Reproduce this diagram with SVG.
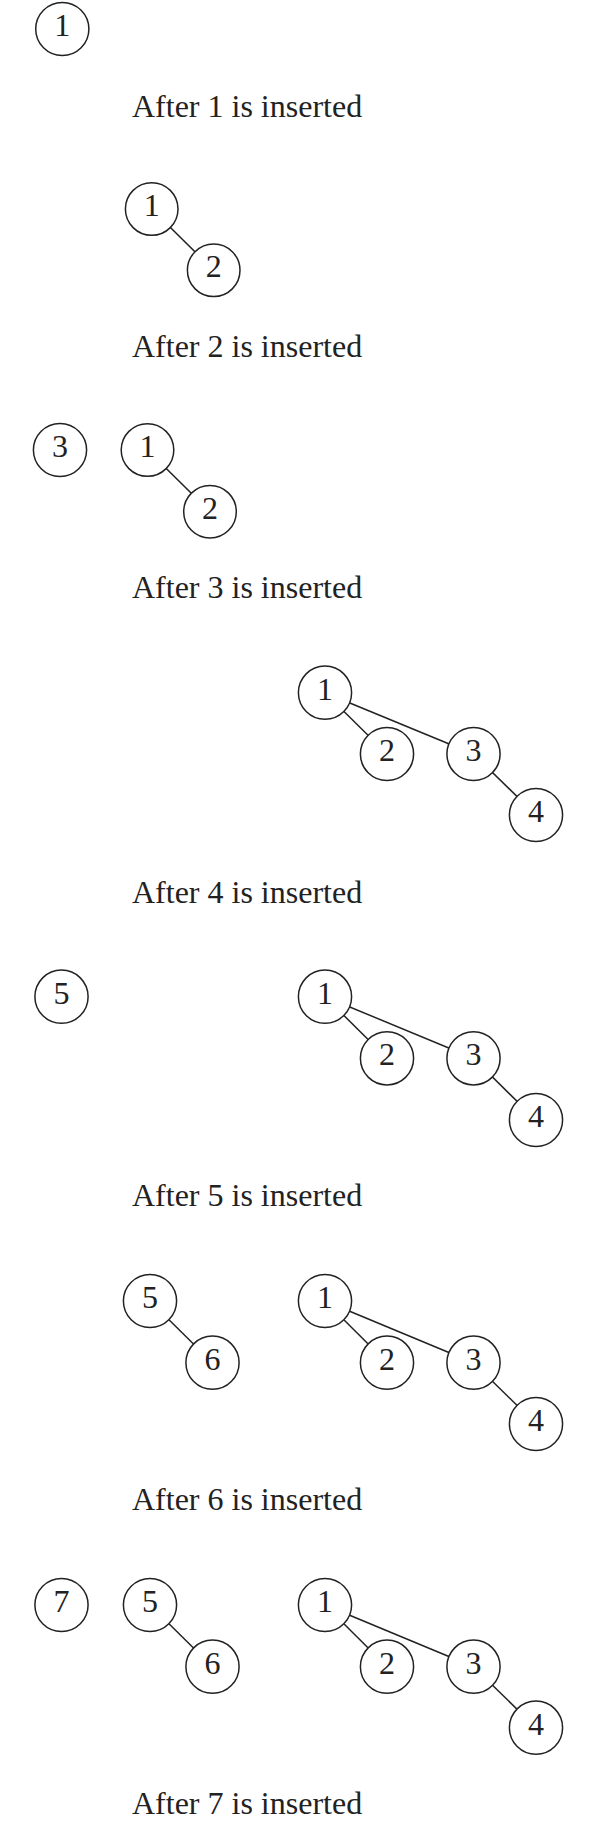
<svg xmlns="http://www.w3.org/2000/svg" width="599" height="1838" viewBox="0 0 599 1838">
<style>
.n circle{fill:#fff;stroke:#222;stroke-width:1.5}
.n text,.lbl{font-family:"Liberation Serif","Times New Roman",serif;font-size:32px;fill:#222}
.n text{text-anchor:middle}
.e line{stroke:#222;stroke-width:1.5}
</style>
<rect width="599" height="1838" fill="#fff"/>
<g id="connectors" class="e">
<line x1="151.7" y1="209" x2="213.7" y2="270.3"/>
<line x1="147.5" y1="450" x2="210" y2="511.7"/>
<line x1="325" y1="692.7" x2="387" y2="754"/>
<line x1="325" y1="692.7" x2="473.5" y2="754"/>
<line x1="473.5" y1="754" x2="536" y2="815"/>
<line x1="325" y1="996.7" x2="387" y2="1058.3"/>
<line x1="325" y1="996.7" x2="473.5" y2="1058.3"/>
<line x1="473.5" y1="1058.3" x2="536" y2="1120"/>
<line x1="150" y1="1301" x2="212.5" y2="1362.7"/>
<line x1="325" y1="1301" x2="387" y2="1362.7"/>
<line x1="325" y1="1301" x2="473.5" y2="1362.7"/>
<line x1="473.5" y1="1362.7" x2="536" y2="1424"/>
<line x1="150" y1="1605" x2="212.5" y2="1666.7"/>
<line x1="325" y1="1605" x2="387" y2="1666.7"/>
<line x1="325" y1="1605" x2="473.5" y2="1666.7"/>
<line x1="473.5" y1="1666.7" x2="536" y2="1727.7"/>
</g>
<g id="s1-n1" class="n"><circle cx="62.3" cy="29" r="26.6"/><text x="62.3" y="36">1</text></g>
<text class="lbl" x="132" y="116.7">After 1 is inserted</text>
<g id="s2-n1" class="n"><circle cx="151.7" cy="209" r="26.3"/><text x="151.7" y="216">1</text></g>
<g id="s2-n2" class="n"><circle cx="213.7" cy="270.3" r="26.3"/><text x="213.7" y="277.3">2</text></g>
<text class="lbl" x="132" y="356.7">After 2 is inserted</text>
<g id="s3-n3" class="n"><circle cx="60" cy="450" r="26.6"/><text x="60" y="457">3</text></g>
<g id="s3-n1" class="n"><circle cx="147.5" cy="450" r="26.3"/><text x="147.5" y="457">1</text></g>
<g id="s3-n2" class="n"><circle cx="210" cy="511.7" r="26.3"/><text x="210" y="518.7">2</text></g>
<text class="lbl" x="132" y="598.3">After 3 is inserted</text>
<g id="s4-n1" class="n"><circle cx="325" cy="692.7" r="26.6"/><text x="325" y="699.7">1</text></g>
<g id="s4-n2" class="n"><circle cx="387" cy="754" r="26.6"/><text x="387" y="761">2</text></g>
<g id="s4-n3" class="n"><circle cx="473.5" cy="754" r="26.6"/><text x="473.5" y="761">3</text></g>
<g id="s4-n4" class="n"><circle cx="536" cy="815" r="26.6"/><text x="536" y="822">4</text></g>
<text class="lbl" x="132" y="902.7">After 4 is inserted</text>
<g id="s5-n5" class="n"><circle cx="61.5" cy="996.7" r="26.6"/><text x="61.5" y="1003.7">5</text></g>
<g id="s5-n1" class="n"><circle cx="325" cy="996.7" r="26.6"/><text x="325" y="1003.7">1</text></g>
<g id="s5-n2" class="n"><circle cx="387" cy="1058.3" r="26.6"/><text x="387" y="1065.3">2</text></g>
<g id="s5-n3" class="n"><circle cx="473.5" cy="1058.3" r="26.6"/><text x="473.5" y="1065.3">3</text></g>
<g id="s5-n4" class="n"><circle cx="536" cy="1120" r="26.6"/><text x="536" y="1127">4</text></g>
<text class="lbl" x="132" y="1206">After 5 is inserted</text>
<g id="s6-n5" class="n"><circle cx="150" cy="1301" r="26.6"/><text x="150" y="1308">5</text></g>
<g id="s6-n6" class="n"><circle cx="212.5" cy="1362.7" r="26.6"/><text x="212.5" y="1369.7">6</text></g>
<g id="s6-n1" class="n"><circle cx="325" cy="1301" r="26.6"/><text x="325" y="1308">1</text></g>
<g id="s6-n2" class="n"><circle cx="387" cy="1362.7" r="26.6"/><text x="387" y="1369.7">2</text></g>
<g id="s6-n3" class="n"><circle cx="473.5" cy="1362.7" r="26.6"/><text x="473.5" y="1369.7">3</text></g>
<g id="s6-n4" class="n"><circle cx="536" cy="1424" r="26.6"/><text x="536" y="1431">4</text></g>
<text class="lbl" x="132" y="1510">After 6 is inserted</text>
<g id="s7-n7" class="n"><circle cx="61.5" cy="1605" r="26.6"/><text x="61.5" y="1612">7</text></g>
<g id="s7-n5" class="n"><circle cx="150" cy="1605" r="26.6"/><text x="150" y="1612">5</text></g>
<g id="s7-n6" class="n"><circle cx="212.5" cy="1666.7" r="26.6"/><text x="212.5" y="1673.7">6</text></g>
<g id="s7-n1" class="n"><circle cx="325" cy="1605" r="26.6"/><text x="325" y="1612">1</text></g>
<g id="s7-n2" class="n"><circle cx="387" cy="1666.7" r="26.6"/><text x="387" y="1673.7">2</text></g>
<g id="s7-n3" class="n"><circle cx="473.5" cy="1666.7" r="26.6"/><text x="473.5" y="1673.7">3</text></g>
<g id="s7-n4" class="n"><circle cx="536" cy="1727.7" r="26.6"/><text x="536" y="1734.7">4</text></g>
<text class="lbl" x="132" y="1814">After 7 is inserted</text>
</svg>
